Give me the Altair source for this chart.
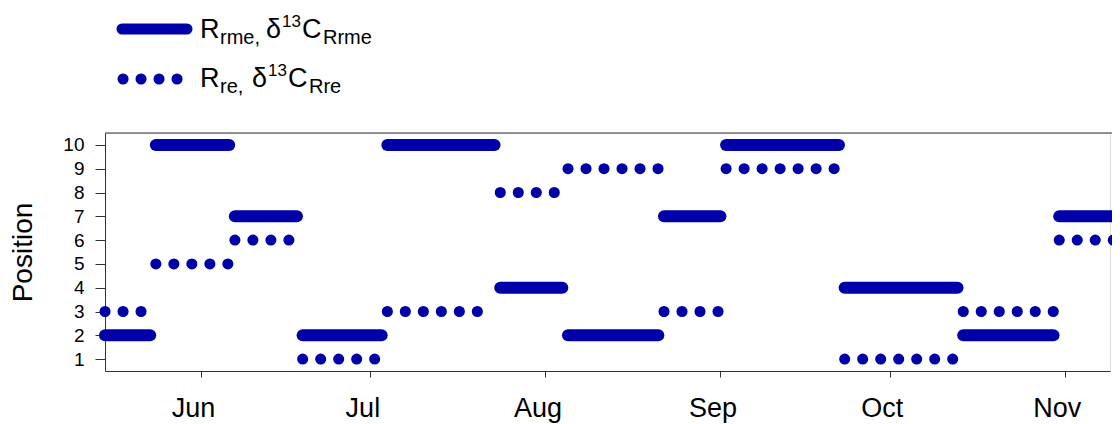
import altair as alt
import pandas as pd

# ---- data ----
seg_start = ["2009-05-15", "2009-05-24", "2009-06-07", "2009-06-19", "2009-07-04", "2009-07-24",
             "2009-08-05", "2009-08-22", "2009-09-02", "2009-09-23", "2009-10-14", "2009-10-31"]
seg_end = ["2009-05-23", "2009-06-06", "2009-06-18", "2009-07-03", "2009-07-23", "2009-08-04",
           "2009-08-21", "2009-09-01", "2009-09-22", "2009-10-13", "2009-10-30", "2009-11-20"]
pos_rme = [2, 10, 7, 2, 10, 4, 2, 7, 10, 4, 2, 7]   # solid  (R_rme)
pos_re = [3, 5, 6, 1, 3, 8, 9, 3, 9, 1, 3, 6]       # dotted (R_re)
y_ticks = [1, 2, 3, 4, 5, 6, 7, 8, 9, 10]
month_ticks = [6, 7, 8, 9, 10, 11]

BLUE = "#0000A8"
AX = "#333333"
FONT = "Liberation Sans"
W, H = 1005, 238


def seg_frame(pos):
    rows = []
    for i, (s, e, p) in enumerate(zip(seg_start, seg_end, pos)):
        rows.append({"date": s + "T00:00:00", "pos": p, "seg": i})
        rows.append({"date": e + "T00:00:00", "pos": p, "seg": i})
    return pd.DataFrame(rows)


df_rme = seg_frame(pos_rme)
df_re = seg_frame(pos_re)
dummy = pd.DataFrame({"a": [0]})

x_enc = alt.X(
    "date:T",
    scale=alt.Scale(domain=[alt.DateTime(year=2009, month=5, date=15),
                            alt.DateTime(year=2009, month=11, date=9)], nice=False),
    axis=alt.Axis(
        values=[alt.DateTime(year=2009, month=m, date=1) for m in month_ticks],
        format="%b", title=None, grid=False,
        labelFontSize=27, labelFont=FONT, labelColor="black", labelOffset=-8,
        labelBaseline="alphabetic", labelPadding=39, tickSize=6,
        labelFlush=False, labelOverlap=False, labelBound=False,
        domainColor=AX, tickColor=AX,
    ),
)
y_enc = alt.Y(
    "pos:Q",
    scale=alt.Scale(domain=[0.5, 10.5], nice=False, zero=False),
    axis=alt.Axis(
        values=y_ticks, tickCount=10, title="Position", grid=False,
        titleFontSize=28, titleFont=FONT, titleFontWeight="normal", titleColor="black",
        titleAngle=-90, titleX=-82, titleY=119, titleAlign="center", titleBaseline="middle",
        labelFontSize=19, labelFont=FONT, labelColor="black", labelPadding=11, tickSize=10,
        labelOverlap=False, labelFlush=False, labelBound=False,
        domainColor=AX, tickColor=AX,
    ),
)

solid = alt.Chart(df_rme).mark_line(
    color=BLUE, strokeWidth=12, strokeCap="round", clip=False
).encode(x=x_enc, y=y_enc, detail="seg:N")

dotted = alt.Chart(df_re).mark_line(
    color=BLUE, strokeWidth=11, strokeCap="round", strokeDash=[0.1, 17.9], clip=False
).encode(x=x_enc, y=y_enc, detail="seg:N")

top_border = alt.Chart(dummy).mark_rule(color=AX, strokeWidth=1).encode(
    x=alt.value(0), x2=alt.value(W + 10), y=alt.value(0)
)

leg_solid = alt.Chart(dummy).mark_rule(color=BLUE, strokeWidth=11, strokeCap="round").encode(
    x=alt.value(17), x2=alt.value(82), y=alt.value(-104)
)
leg_dot = alt.Chart(dummy).mark_rule(
    color=BLUE, strokeWidth=11, strokeCap="round", strokeDash=[0.1, 17.9]
).encode(x=alt.value(18), x2=alt.value(72.5), y=alt.value(-54))


def txt(t, x, y, fs):
    return alt.Chart(dummy).mark_text(
        text=t, fontSize=fs, font=FONT, align="left", baseline="alphabetic", color="black"
    ).encode(x=alt.value(x), y=alt.value(y))


legend_text = [
    txt("R", 95, -95, 27), txt("rme,", 115, -89, 20), txt("δ", 161, -95, 27),
    txt("13", 177, -106, 17), txt("C", 197, -95, 27), txt("Rrme", 218, -89, 20),
    txt("R", 95, -46, 27), txt("re,", 115, -40, 20), txt("δ", 147, -46, 27),
    txt("13", 163, -57, 17), txt("C", 183, -46, 27), txt("Rre", 204, -40, 20),
]

chart = alt.layer(solid, dotted, top_border, leg_solid, leg_dot, *legend_text).properties(
    width=W, height=H,
    autosize=alt.AutoSizeParams(type="none"),
    padding={"left": 97, "top": 125, "right": 2, "bottom": 55},
).configure_view(stroke=None).configure(background="white")

chart.save("out.html", embed_options={"renderer": "svg", "actions": False})
